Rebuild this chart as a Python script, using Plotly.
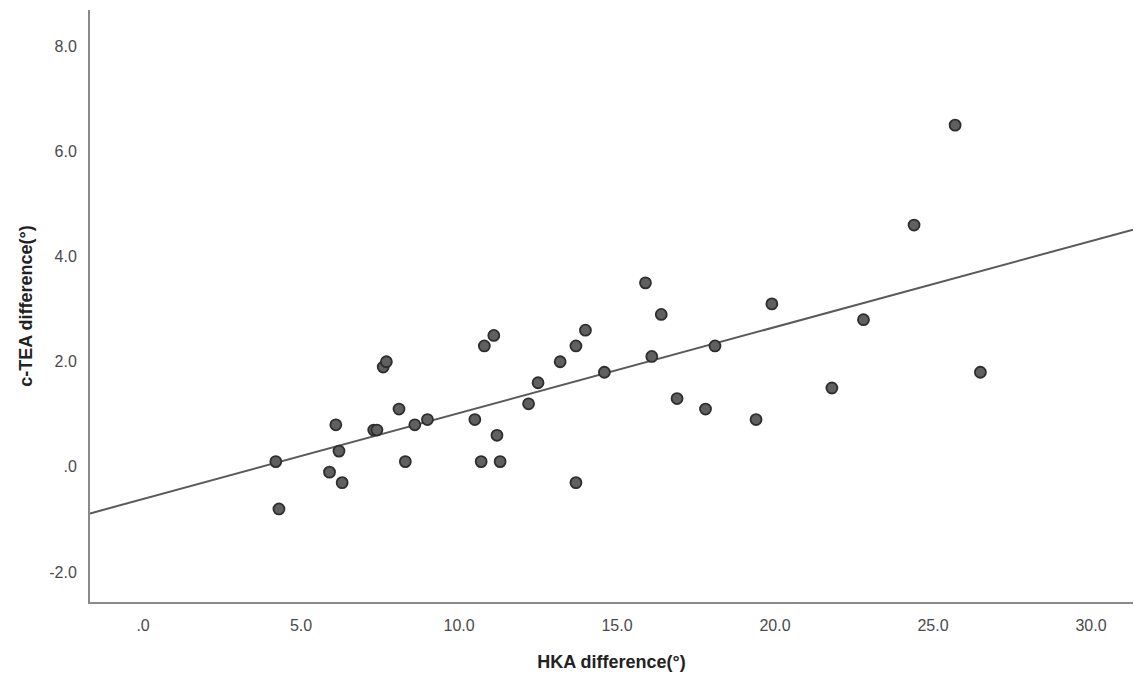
import numpy as np
import plotly.graph_objects as go

# HKA difference (°) for each case
hka_diff = [4.2, 4.3, 5.9, 6.1, 6.2, 6.3, 7.3, 7.4, 7.6, 7.7,
            8.1, 8.3, 8.6, 9.0, 10.5, 10.7, 10.8, 11.1, 11.2, 11.3,
            12.2, 12.5, 13.2, 13.7, 13.7, 14.0, 14.6, 15.9, 16.1, 16.4,
            16.9, 17.8, 18.1, 19.4, 19.9, 21.8, 22.8, 24.4, 25.7, 26.5]
# c-TEA difference (°) for each case
ctea_diff = [0.1, -0.8, -0.1, 0.8, 0.3, -0.3, 0.7, 0.7, 1.9, 2.0,
             1.1, 0.1, 0.8, 0.9, 0.9, 0.1, 2.3, 2.5, 0.6, 0.1,
             1.2, 1.6, 2.0, 2.3, -0.3, 2.6, 1.8, 3.5, 2.1, 2.9,
             1.3, 1.1, 2.3, 0.9, 3.1, 1.5, 2.8, 4.6, 6.5, 1.8]

x_tickvals = [0, 5, 10, 15, 20, 25, 30]
x_ticktext = [".0", "5.0", "10.0", "15.0", "20.0", "25.0", "30.0"]
y_tickvals = [-2, 0, 2, 4, 6, 8]
y_ticktext = ["-2.0", ".0", "2.0", "4.0", "6.0", "8.0"]

x_range = [-1.68, 31.33]
y_range = [-2.57, 8.69]

# least-squares fit line across the full x range
slope, intercept = np.polyfit(hka_diff, ctea_diff, 1)
fit_x = np.array(x_range)
fit_y = intercept + slope * fit_x

fig = go.Figure()
fig.add_trace(go.Scatter(
    x=fit_x, y=fit_y, mode="lines",
    line=dict(color="#5a5a5a", width=2),
    hoverinfo="skip", showlegend=False,
))
fig.add_trace(go.Scatter(
    x=hka_diff, y=ctea_diff, mode="markers",
    marker=dict(size=11, color="#606060", line=dict(color="#2e2e2e", width=1.8)),
    showlegend=False,
))

tick_font = dict(family="Liberation Sans, Arial, sans-serif", size=16, color="#4a4a4a")
title_font = dict(family="Liberation Sans, Arial, sans-serif", size=18, color="#222222")

fig.update_layout(
    width=1134, height=678,
    margin=dict(l=90, r=1, t=10, b=76),
    paper_bgcolor="white", plot_bgcolor="white",
    xaxis=dict(
        range=x_range, tickvals=x_tickvals, ticktext=x_ticktext,
        showgrid=False, zeroline=False, showline=True,
        linecolor="#8a8a8a", linewidth=2, ticks="",
        tickfont=tick_font, ticklabelstandoff=8,
        title=dict(text="<b>HKA difference(°)</b>", font=title_font, standoff=22),
    ),
    yaxis=dict(
        range=y_range, tickvals=y_tickvals, ticktext=y_ticktext,
        showgrid=False, zeroline=False, showline=True,
        linecolor="#8a8a8a", linewidth=2, ticks="",
        tickfont=tick_font, ticklabelstandoff=8,
        title=dict(text="<b>c-TEA difference(°)</b>", font=title_font, standoff=12),
    ),
)

fig.write_html(
    "out.html",
    config={"displayModeBar": False},
    post_script="document.body.style.margin='0';document.body.style.overflow='hidden';",
)
